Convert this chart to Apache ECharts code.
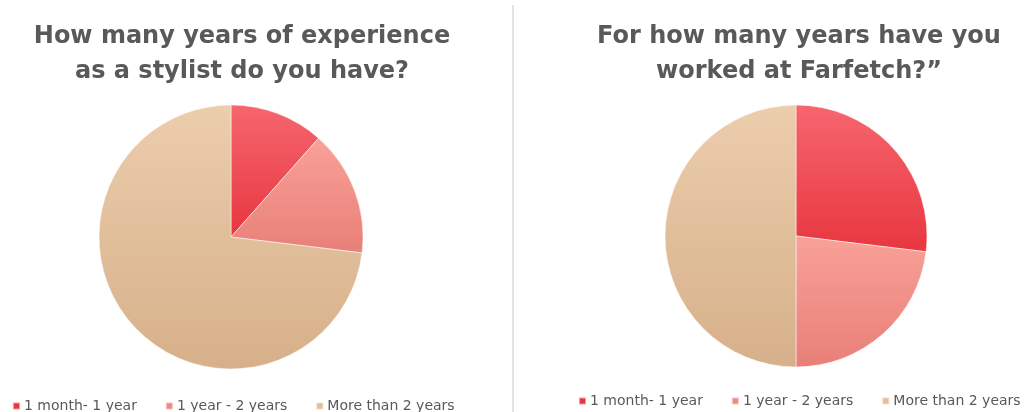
<!DOCTYPE html>
<html><head><meta charset="utf-8">
<script src="https://cdn.jsdelivr.net/npm/echarts@6/dist/echarts.min.js"></script>
<style>html,body{margin:0;padding:0;background:#fff}#c{width:1027px;height:412px}</style>
</head><body><div id="c"></div>
<script>
const categories = ['1 month- 1 year', '1 year - 2 years', 'More than 2 years'];
const experienceValues = [3, 4, 19];
const farfetchValues = [7, 6, 13];
const title1 = 'How many years of experience\nas a stylist do you have?';
const title2 = 'For how many years have you\nworked at Farfetch?\u201d';

const grads = [
  ['#f6666f', '#e8363f'],
  ['#f9a198', '#e87f78'],
  ['#eccdac', '#d6b08a']
];
const solid = ['#e8363f', '#ef8a82', '#e2bd97'];
function grad(i) {
  return new echarts.graphic.LinearGradient(0, 0, 0, 1, [
    {offset: 0, color: grads[i][0]}, {offset: 1, color: grads[i][1]}
  ]);
}
function mkData(vals) {
  return vals.map((v, i) => ({name: categories[i], value: v, itemStyle: {color: grad(i)}}));
}
const chart = echarts.init(document.getElementById('c'), null, {renderer: 'canvas'});
const legendBase = {
  orient: 'horizontal', icon: 'rect', itemWidth: 7, itemHeight: 7, itemGap: 28,
  selectedMode: false,
  textStyle: {fontFamily: 'DejaVu Sans', fontSize: 14, color: '#595959', padding: [0, 0, 0, -1]},
  data: categories.map((c, i) => ({name: c, itemStyle: {color: solid[i]}}))
};
chart.setOption({
  animation: false,
  title: [
    {text: title1, left: 237, top: 14, textAlign: 'center',
     textStyle: {fontFamily: 'DejaVu Sans', fontWeight: 'bold', fontSize: 24, color: '#595959', lineHeight: 35}},
    {text: title2, left: 794, top: 14, textAlign: 'center',
     textStyle: {fontFamily: 'DejaVu Sans', fontWeight: 'bold', fontSize: 24, color: '#595959', lineHeight: 35}}
  ],
  legend: [
    Object.assign({}, legendBase, {left: 7, top: 394}),
    Object.assign({}, legendBase, {left: 573, top: 389})
  ],
  graphic: [{type: 'rect', shape: {x: 512, y: 5, width: 2, height: 407}, style: {fill: '#e3e3e3'}}],
  series: [
    {type: 'pie', center: [231, 237], radius: 132, startAngle: 90, clockwise: true,
     label: {show: false}, labelLine: {show: false}, silent: true,
     itemStyle: {borderColor: 'rgba(255,255,255,0.5)', borderWidth: 1},
     data: mkData(experienceValues)},
    {type: 'pie', center: [796, 236], radius: 131, startAngle: 90, clockwise: true,
     label: {show: false}, labelLine: {show: false}, silent: true,
     itemStyle: {borderColor: 'rgba(255,255,255,0.5)', borderWidth: 1},
     data: mkData(farfetchValues)}
  ]
});
</script></body></html>
